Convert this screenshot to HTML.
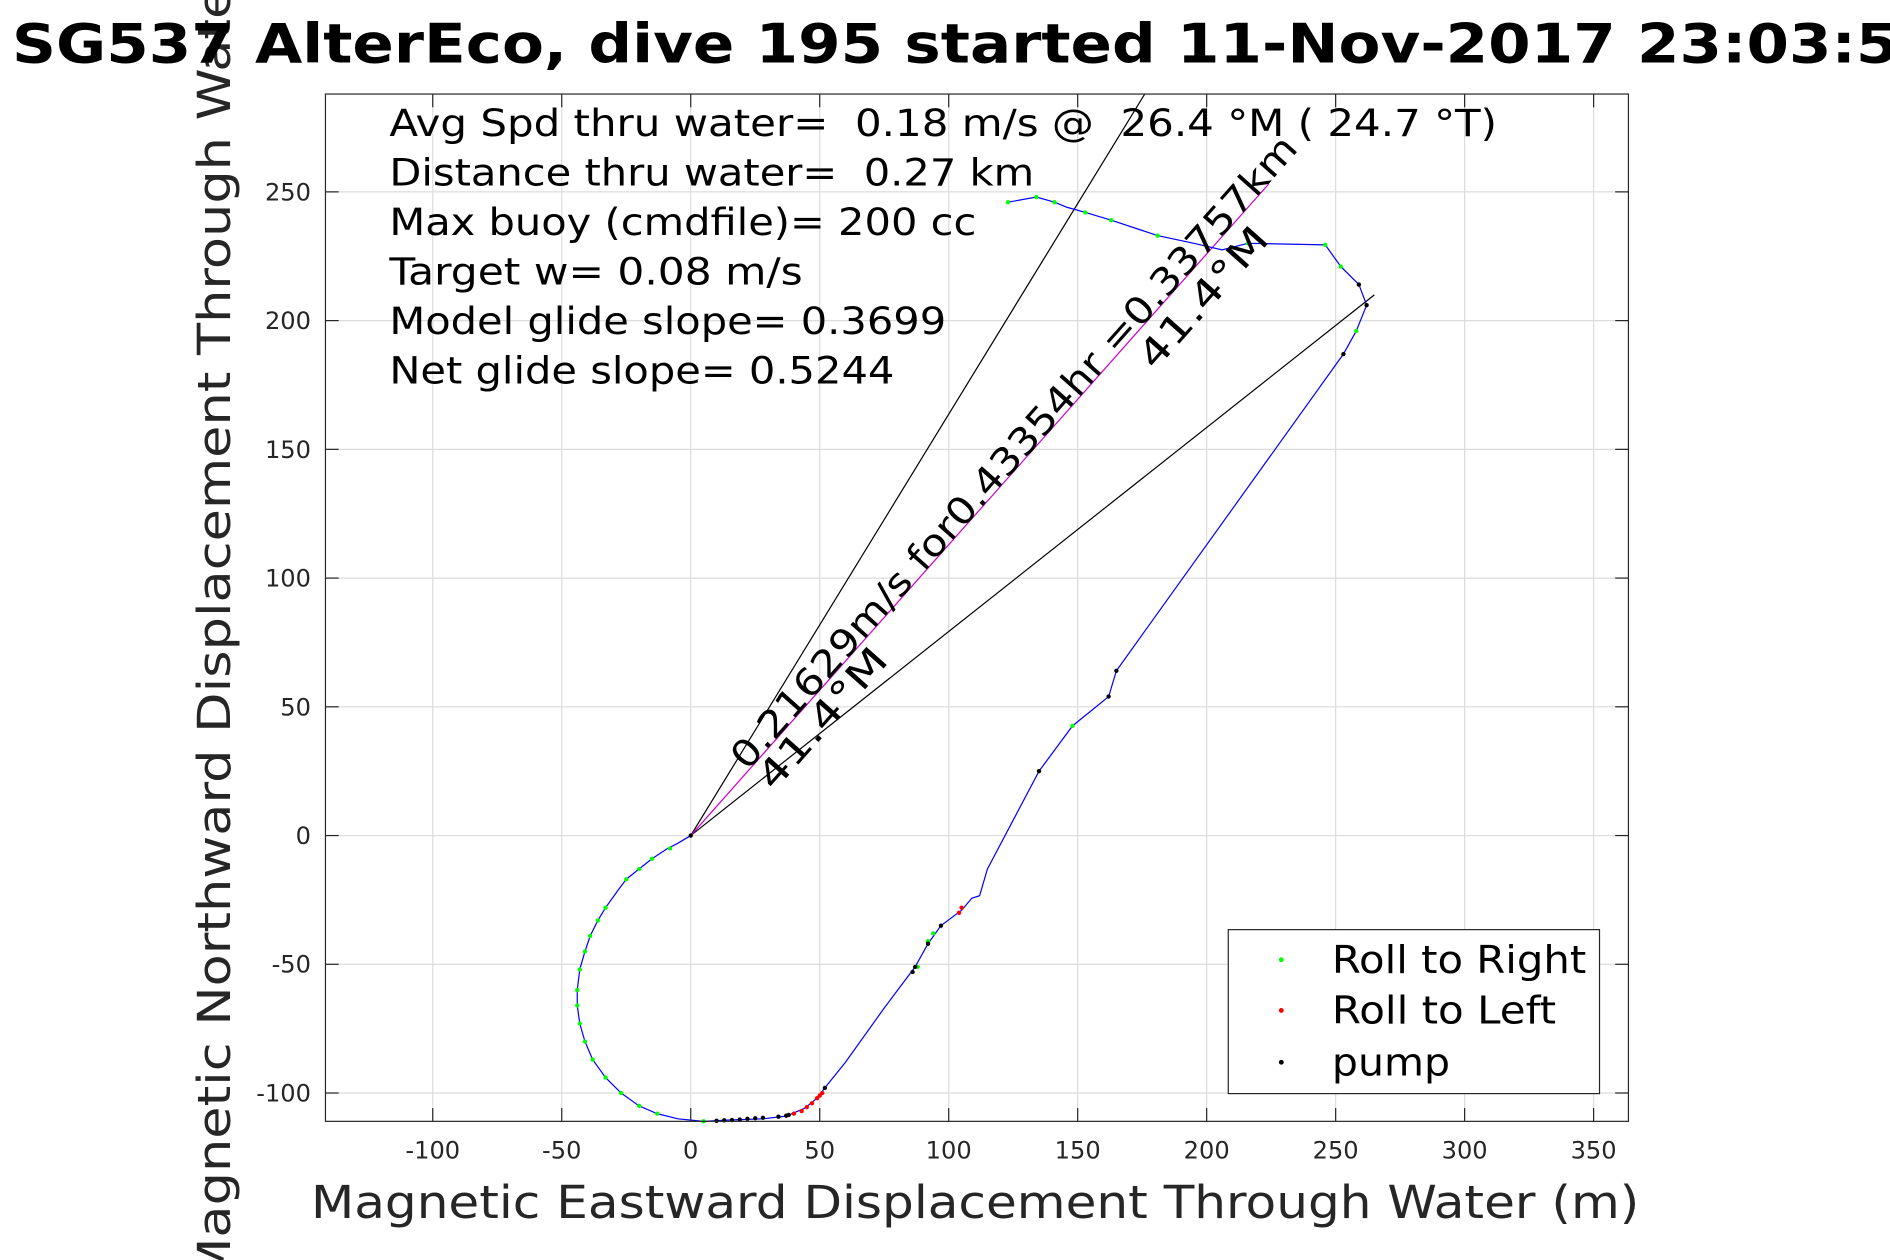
<!DOCTYPE html>
<html><head><meta charset="utf-8"><style>
html,body{margin:0;padding:0;background:#fff;}
svg{display:block;font-family:"DejaVu Sans","Liberation Sans",sans-serif;}
text{white-space:pre;}
</style></head><body>
<svg id="chart" width="1890" height="1260" viewBox="0 0 1568 1045" preserveAspectRatio="none" xmlns="http://www.w3.org/2000/svg">
<rect x="0" y="0" width="1568" height="1045" fill="#fff"/>
<g id="grid"></g>
<g id="marks"></g>
<rect x="270" y="78" width="1081" height="852" fill="none" stroke="#262626" stroke-width="1"/>
<g id="ticks"></g>
<text transform="translate(191,1064) rotate(-90)" font-size="38" fill="#262626" textLength="1110" lengthAdjust="spacingAndGlyphs">Magnetic Northward Displacement Through Water(</text>
<text x="10" y="52" font-size="45" font-weight="bold" fill="#000" textLength="1565" lengthAdjust="spacingAndGlyphs">SG537 AlterEco, dive 195 started 11-Nov-2017 23:03:5</text>
<text x="258" y="1010" font-size="38" fill="#262626" textLength="1102" lengthAdjust="spacingAndGlyphs">Magnetic Eastward Displacement Through Water (m)</text>
<g font-size="31" fill="#000">
<text x="323" y="113" textLength="919" lengthAdjust="spacingAndGlyphs">Avg Spd thru water=  0.18 m/s @  26.4 °M ( 24.7 °T)</text>
<text x="323" y="154" textLength="535" lengthAdjust="spacingAndGlyphs">Distance thru water=  0.27 km</text>
<text x="323" y="195" textLength="487" lengthAdjust="spacingAndGlyphs">Max buoy (cmdfile)= 200 cc</text>
<text x="323" y="236" textLength="343" lengthAdjust="spacingAndGlyphs">Target w= 0.08 m/s</text>
<text x="323" y="277" textLength="462" lengthAdjust="spacingAndGlyphs">Model glide slope= 0.3699</text>
<text x="323" y="318" textLength="419" lengthAdjust="spacingAndGlyphs">Net glide slope= 0.5244</text>
</g>
<g>
<rect x="1019" y="771" width="308" height="136" fill="#fff" stroke="#262626" stroke-width="1"/>
<circle cx="1063" cy="796" r="2" fill="#00ff00"/>
<circle cx="1063" cy="838" r="2" fill="#ff0000"/>
<circle cx="1063" cy="881" r="2" fill="#000"/>
<text x="1105" y="807" font-size="32" textLength="211" lengthAdjust="spacingAndGlyphs">Roll to Right</text>
<text x="1105" y="849" font-size="32" textLength="186" lengthAdjust="spacingAndGlyphs">Roll to Left</text>
<text x="1105" y="892" font-size="32" textLength="98" lengthAdjust="spacingAndGlyphs">pump</text>
</g>
</svg>
<script>
const xTicks=[-100,-50,0,50,100,150,200,250,300,350];
const yTicks=[-100,-50,0,50,100,150,200,250];
const trackE=[0,-5,-9,-15,-20,-25,-28,-33,-36,-39,-41,-43,-44,-44,-43,-41,-38,-33,-27,-20,-13,-5,5,15,28,37,44,49,52,60,75,87,92,97,105,109,112,115,135,148,162,165,253,258,262,259,252,246,216,206,195,181,163,153,146,141,134,123];
const trackN=[0,-3,-5,-9,-13,-17,-21,-28,-33,-39,-45,-52,-60,-66,-73,-80,-87,-94,-100,-105,-108,-110,-111,-110.5,-110,-109,-106,-102,-98,-88,-67,-51,-42,-35,-29,-24.3,-23.4,-13,25,42.6,54,64,187,196,206,214,221,229.4,230,227.5,230,233,239,242,244,246,248,246];
const rightE=[-8,-15,-20,-25,-33,-36,-39,-41,-43,-44,-44,-43,-41,-38,-33,-27,-20,-13,5,88,92,94,148,123,134,141,153,163,181,216,246,252,258];
const rightN=[-5,-9,-13,-17,-28,-33,-39,-45,-52,-60,-66,-73,-80,-87,-94,-100,-105,-108,-111,-51,-41,-38,42.6,246,248,246,242,239,233,230,229.4,221,196];
const leftE=[40,43,45,47,49,50,51,104,105];
const leftN=[-108,-107,-105.5,-104,-102,-101,-100,-30,-28];
const pumpE=[0,10,13,16,19,22,25,28,34,37,38,52,86,87,92,97,135,162,165,253,262,259];
const pumpN=[0,-110.8,-110.6,-110.5,-110.3,-110,-109.8,-109.6,-109.2,-108.8,-108.5,-98,-53,-51,-42,-35,25,54,64,187,206,214];
const lineEnd1=[176,288];
const lineEnd2=[265,210];
const magentaEnd=[224,253];

const X0=270,X1=1351,Y0=78,Y1=930;
const xMin=-141.6,xMax=363.5,yMin=-111,yMax=288;
const sx=v=>X0+(v-xMin)/(xMax-xMin)*(X1-X0);
const sy=v=>Y1-(v-yMin)/(yMax-yMin)*(Y1-Y0);
const NS="http://www.w3.org/2000/svg";
function mk(tag,attrs,parent){const e=document.createElementNS(NS,tag);for(const k in attrs)e.setAttribute(k,attrs[k]);parent.appendChild(e);return e;}
const grid=document.getElementById('grid'),ticks=document.getElementById('ticks'),marks=document.getElementById('marks');
xTicks.forEach(t=>{const x=sx(t);
 let g=mk('line',{x1:x,x2:x,y1:Y0,y2:Y1,stroke:'#dcdcdc','stroke-width':1},grid);
 
 
 let a=mk('line',{x1:x,x2:x,y1:Y1,y2:Y1-11,stroke:'#262626','stroke-width':1},ticks);
 
 
 let b=mk('line',{x1:x,x2:x,y1:Y0,y2:Y0+11,stroke:'#262626','stroke-width':1},ticks);
 
 
 let l=mk('text',{x:x,y:961,'font-size':20,fill:'#262626','text-anchor':'middle'},ticks);l.textContent=t;
 
 
});
yTicks.forEach(t=>{const y=sy(t);
 let g=mk('line',{x1:X0,x2:X1,y1:y,y2:y,stroke:'#dcdcdc','stroke-width':1},grid);
 
 
 let a=mk('line',{x1:X0,x2:X0+11,y1:y,y2:y,stroke:'#262626','stroke-width':1},ticks);
 
 
 let b=mk('line',{x1:X1,x2:X1-11,y1:y,y2:y,stroke:'#262626','stroke-width':1},ticks);
 
 
 let l=mk('text',{x:258,y:y+7,'font-size':20,fill:'#262626','text-anchor':'end'},ticks);l.textContent=t;
 
 
});
[[lineEnd1,'#000','heading-line-1'],[lineEnd2,'#000','heading-line-2'],[magentaEnd,'#cc00cc','net-displacement-line']].forEach(([p,c,n])=>{
 let l=mk('line',{x1:sx(0),y1:sy(0),x2:sx(p[0]),y2:sy(p[1]),stroke:c,'stroke-width':1},marks);
 
 
});
let d=trackE.map((e,i)=>(i?'L':'M')+sx(e).toFixed(1)+' '+sy(trackN[i]).toFixed(1)).join(' ');
let tr=mk('path',{d:d,fill:'none',stroke:'#0000ff','stroke-width':1},marks);


function dots(E,N,c,n){E.forEach((e,i)=>{let p=mk('circle',{cx:sx(e),cy:sy(N[i]),r:1.8,fill:c},marks);
 
 });}
dots(rightE,rightN,'#00ff00','roll-right-point');
dots(leftE,leftN,'#ff0000','roll-left-point');
dots(pumpE,pumpN,'#000','pump-point');
const ang=-Math.atan2(sy(0)-sy(magentaEnd[1]),sx(magentaEnd[0])-sx(0))*180/Math.PI;
let t1=mk('text',{transform:`translate(620,640) rotate(${ang})`,'font-size':31,fill:'#000',textLength:690,lengthAdjust:'spacingAndGlyphs'},marks);
t1.textContent='0.21629m/s for0.43354hr =0.33757km';


let t2=mk('text',{transform:`translate(642,657) rotate(${ang})`,'font-size':31,fill:'#000',textLength:145,lengthAdjust:'spacingAndGlyphs'},marks);
t2.textContent='41.4°M';


let t3=mk('text',{transform:`translate(958,308) rotate(${ang})`,'font-size':31,fill:'#000',textLength:145,lengthAdjust:'spacingAndGlyphs'},marks);
t3.textContent='41.4°M';


</script>
</body></html>
